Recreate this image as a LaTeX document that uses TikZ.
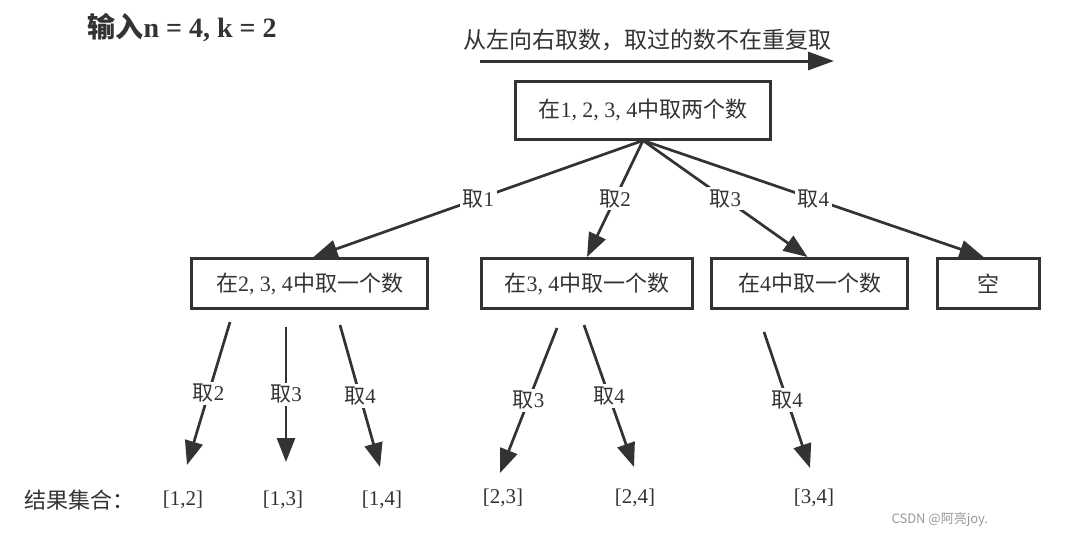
\documentclass[tikz,border=0pt]{standalone}
\usepackage{fontspec}
\setmainfont{Liberation Serif}
\newfontfamily\cjk{Noto Sans CJK SC}
\usetikzlibrary{arrows.meta}
\definecolor{ink}{HTML}{333333}
\newcommand\zhs[1]{{\cjk #1}}
\begin{document}
\begin{tikzpicture}[x=1pt,y=-1pt,
  every node/.style={text=ink},
  box/.style={draw=ink, line width=3pt, rectangle, minimum height=50pt, inner sep=0pt, font=\fontsize{22}{26}\selectfont},
  arr/.style={draw=ink, line width=2.7pt, -{Triangle[length=24pt,width=18pt]}},
  lbl/.style={fill=white, inner sep=2.5pt, font=\fontsize{21}{24}\selectfont},
  res/.style={font=\fontsize{21}{24}\selectfont}]
\fill[white] (0,0) rectangle (1086,536);
\useasboundingbox (0,0) rectangle (1086,536);

% title and direction
\node[anchor=west, font=\fontsize{28}{32}\selectfont\bfseries] (title) at (84,28) {\zhs{输入}n = 4, k = 2};
\node[font=\fontsize{23}{26}\selectfont] (dirtext) at (647,40) {\zhs{从左向右取数，取过的数不在重复取}};
\coordinate (dirs) at (480,61);
\coordinate (dire) at (834,61);
\draw[draw=ink, line width=3pt, -{Triangle[length=26pt,width=18pt]}] (dirs) -- (dire);

% boxes
\node[box, minimum width=255pt, minimum height=58pt] (root) at (643,110) {\zhs{在}1, 2, 3, 4\zhs{中取两个数}};
\node[box, minimum width=236pt] (A) at (309.5,283.5) {\zhs{在}2, 3, 4\zhs{中取一个数}};
\node[box, minimum width=211pt] (B) at (587,283.5) {\zhs{在}3, 4\zhs{中取一个数}};
\node[box, minimum width=196pt] (C) at (809.5,283.5) {\zhs{在}4\zhs{中取一个数}};
\node[box, minimum width=102pt] (D) at (988.5,283.5) {\zhs{空}};

\draw[arr] (root.south) -- node[lbl]{\zhs{取}1} ([xshift=4pt]A.north);
\draw[arr] (root.south) -- node[lbl]{\zhs{取}2} (B.north);
\draw[arr] (root.south) -- node[lbl]{\zhs{取}3} ([xshift=-2pt]C.north);
\draw[arr] (root.south) -- node[lbl]{\zhs{取}4} ([xshift=-5pt]D.north);

% results
\node[anchor=west, font=\fontsize{22}{26}\selectfont] (reslabel) at (21,500) {\zhs{结果集合：}};
\node[res] (r12) at (183,500) {[1,2]};
\node[res] (r13) at (283,500) {[1,3]};
\node[res] (r14) at (382,500) {[1,4]};
\node[res] (r23) at (503,498) {[2,3]};
\node[res] (r24) at (635,498) {[2,4]};
\node[res] (r34) at (814,498) {[3,4]};

% level-3 arrows
\coordinate (a2s) at (230,322); \coordinate (a2e) at (187,465);
\coordinate (a3s) at (286,327); \coordinate (a3e) at (286,462);
\coordinate (a4s) at (340,325); \coordinate (a4e) at (380,467);
\coordinate (b3s) at (557,328); \coordinate (b3e) at (500,473);
\coordinate (b4s) at (584,325); \coordinate (b4e) at (634,467);
\coordinate (c4s) at (764,332); \coordinate (c4e) at (810,468);
\draw[arr] (a2s) -- node[lbl]{\zhs{取}2} (a2e);
\draw[arr] (a3s) -- node[lbl]{\zhs{取}3} (a3e);
\draw[arr] (a4s) -- node[lbl]{\zhs{取}4} (a4e);
\draw[arr] (b3s) -- node[lbl]{\zhs{取}3} (b3e);
\draw[arr] (b4s) -- node[lbl]{\zhs{取}4} (b4e);
\draw[arr] (c4s) -- node[lbl]{\zhs{取}4} (c4e);

% watermark
\node[anchor=west, text=gray!80, font=\cjk\fontsize{13}{15}\selectfont] (wm) at (888,520) {CSDN @阿亮joy.};
\end{tikzpicture}
\end{document}
